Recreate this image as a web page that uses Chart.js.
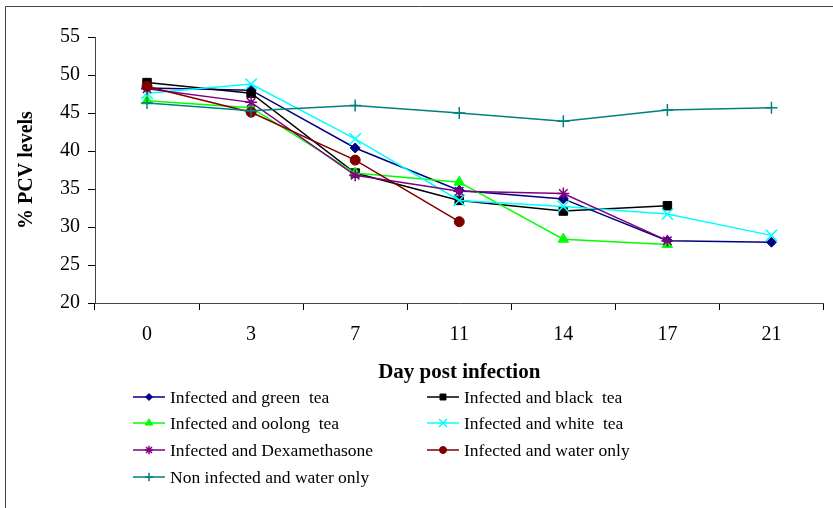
<!DOCTYPE html>
<html>
<head>
<meta charset="utf-8">
<script src="https://cdn.jsdelivr.net/npm/chart.js@4/dist/chart.umd.min.js"></script>
<style>
  html, body { margin: 0; padding: 0; background: #fff; }
  #wrap { position: relative; width: 833px; height: 508px; }
</style>
</head>
<body>
<div id="wrap"><canvas id="pcvChart" width="833" height="508"></canvas></div>
<script>
// valeurs
const days = ['0', '3', '7', '11', '14', '17', '21'];
const greenTea      = [48.3, 48.0, 40.4, 34.8, 33.7, 28.2, 28.0];
const blackTea      = [49.0, 47.6, 37.1, 33.5, 32.1, 32.8, null];
const oolongTea     = [46.6, 45.7, 37.1, 35.9, 28.4, 27.7, null];
const whiteTea      = [47.6, 48.8, 41.6, 33.5, 32.7, 31.7, 28.9];
const dexamethasone = [48.2, 46.4, 36.8, 34.7, 34.4, 28.2, null];
const waterOnly     = [48.5, 45.1, 38.8, 30.7, null, null, null];
const nonInfected   = [46.3, 45.3, 46.0, 45.0, 43.9, 45.4, 45.7];

const serif = '"Liberation Serif", "Times New Roman", serif';
Chart.defaults.font.family = serif;
Chart.defaults.color = '#000';

function serie(label, data, color, style, radius, bw) {
  return {
    label: label,
    data: data,
    borderColor: color,
    backgroundColor: color,
    borderWidth: 1.5,
    pointStyle: style,
    pointRadius: radius,
    pointBackgroundColor: color,
    pointBorderColor: color,
    pointBorderWidth: bw,
    tension: 0,
    spanGaps: false
  };
}

const datasets = [
  serie('Infected and green  tea', greenTea, '#000080', 'rectRot', 5, 1),
  serie('Infected and black  tea', blackTea, '#000000', 'rect', 6, 1),
  serie('Infected and oolong  tea', oolongTea, '#00ff00', 'triangle', 6, 1),
  serie('Infected and white  tea', whiteTea, '#00ffff', 'crossRot', 8, 1.5),
  serie('Infected and Dexamethasone', dexamethasone, '#800080', 'star', 6, 1.5),
  serie('Infected and water only', waterOnly, '#800000', 'circle', 5, 1),
  serie('Non infected and water only', nonInfected, '#008080', 'cross', 6, 1.5)
];
// Excel dessine la dernière série au-dessus
datasets.forEach((d, i) => { d.order = datasets.length - i; });

// cadre gauche/haut
const framePlugin = {
  id: 'frame',
  beforeDraw(chart) {
    const ctx = chart.ctx;
    ctx.save();
    ctx.strokeStyle = '#444';
    ctx.lineWidth = 1;
    ctx.beginPath();
    ctx.moveTo(5.5, 508);
    ctx.lineTo(5.5, 6.5);
    ctx.lineTo(833, 6.5);
    ctx.stroke();
    ctx.restore();
  }
};

// légende sur deux colonnes
const legendPlugin = {
  id: 'gridLegend',
  afterDraw(chart) {
    const ctx = chart.ctx;
    const cols = [133, 427];
    const rows = [397, 423, 450, 477];
    chart.data.datasets.forEach((ds, i) => {
      const x = cols[i % 2];
      const y = rows[Math.floor(i / 2)];
      ctx.save();
      ctx.strokeStyle = ds.borderColor;
      ctx.lineWidth = ds.borderWidth;
      ctx.beginPath();
      ctx.moveTo(x, y);
      ctx.lineTo(x + 32, y);
      ctx.stroke();
      ctx.fillStyle = ds.pointBackgroundColor;
      ctx.strokeStyle = ds.pointBorderColor;
      ctx.lineWidth = ds.pointBorderWidth;
      Chart.helpers.drawPoint(ctx, {
        pointStyle: ds.pointStyle,
        radius: ds.pointRadius * 0.7,
        borderWidth: ds.pointBorderWidth,
        rotation: 0
      }, x + 16, y);
      ctx.fillStyle = '#000';
      ctx.font = '17.5px ' + serif;
      ctx.textBaseline = 'middle';
      ctx.textAlign = 'left';
      ctx.fillText(ds.label, x + 37, y + 1);
      ctx.restore();
    });
  }
};

new Chart(document.getElementById('pcvChart'), {
  type: 'line',
  data: { labels: days, datasets: datasets },
  plugins: [framePlugin, legendPlugin],
  options: {
    responsive: false,
    animation: false,
    devicePixelRatio: 1,
    layout: { padding: { top: 37, right: 5, bottom: 0, left: 0 } },
    plugins: {
      legend: { display: false },
      tooltip: { enabled: false }
    },
    scales: {
      x: {
        type: 'category',
        offset: true,
        grid: { display: true, drawOnChartArea: false, offset: true, tickLength: 7, color: '#000' },
        border: { color: '#444', width: 1 },
        ticks: { color: '#000', font: { size: 20 }, padding: 13, maxRotation: 0 },
        title: {
          display: true,
          text: 'Day post infection',
          color: '#000',
          font: { size: 21, weight: 'bold' },
          padding: { top: 0, bottom: 123 }
        },
        afterFit(s) { s.height = 205; }
      },
      y: {
        min: 20,
        max: 55,
        grid: { display: true, drawOnChartArea: false, tickLength: 7, color: '#000' },
        border: { color: '#444', width: 1 },
        ticks: { stepSize: 5, color: '#000', font: { size: 20 }, padding: 8 },
        title: {
          display: true,
          text: '% PCV levels',
          color: '#000',
          font: { size: 20, weight: 'bold' },
          padding: { top: 15, bottom: 0 }
        },
        afterFit(s) { s.width = 95; }
      }
    }
  }
});
</script>
</body>
</html>
